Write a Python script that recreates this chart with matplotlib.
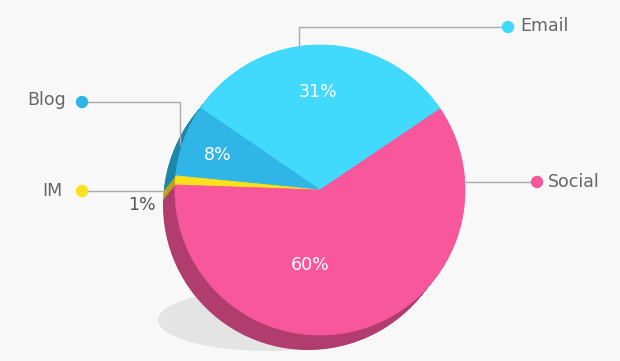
import matplotlib
matplotlib.use("Agg")
import matplotlib.pyplot as plt
from matplotlib.patches import Wedge, Ellipse, Circle

# data
labels = ["Email", "Blog", "IM", "Social"]
shares = [31, 8, 1, 60]
top_colors = ["#41d9fc", "#2fb6e6", "#fbe11c", "#f8589b"]
side_colors = ["#2aa6c8", "#1f86aa", "#b8a318", "#b03d6e"]
start_angle = 34.0  # degrees, counter-clockwise from 3 o'clock

W, H = 620, 361
fig = plt.figure(figsize=(W / 100, H / 100), dpi=100)
fig.patch.set_facecolor("#f8f8f8")
ax = fig.add_axes([0, 0, 1, 1])
ax.set_xlim(0, W)
ax.set_ylim(0, H)
ax.set_aspect("equal")
ax.axis("off")


def py(y):
    # pixel row (from top) -> data y
    return H - y


cx, cy, r = 320, py(190), 145
dx, dy = -12, -15  # depth of the pie side

# shadow under the pie
ax.add_patch(Ellipse((268, py(320)), 220, 62, color="#e4e4e4", lw=0, zorder=1))

# slice angles from the shares
total = sum(shares)
angles = []
a = start_angle
for s in shares:
    span = 360.0 * s / total
    angles.append((a, a + span))
    a += span

# extruded side
steps = 30
for k in range(steps, 0, -1):
    t = k / steps
    for (a0, a1), col in zip(angles, side_colors):
        ax.add_patch(Wedge((cx + dx * t, cy + dy * t), r, a0, a1,
                           color=col, lw=0, zorder=2))

# top face
for (a0, a1), col in zip(angles, top_colors):
    ax.add_patch(Wedge((cx, cy), r, a0, a1, color=col, lw=0.6, ec=col, zorder=3))

# percentage labels
pct_font = dict(family=["DejaVu Sans"], fontsize=12.5, zorder=5,
                ha="center", va="center")
ax.text(318, py(92), f"{shares[0]}%", color="white", **pct_font)
ax.text(218, py(155), f"{shares[1]}%", color="white", **pct_font)
ax.text(142, py(205), f"{shares[2]}%", color="#555555", **pct_font)
ax.text(310, py(265), f"{shares[3]}%", color="white", **pct_font)

# leader lines, dots and names
line_kw = dict(color="#aaaaaa", lw=1, zorder=4, solid_capstyle="butt")
name_font = dict(family=["DejaVu Sans"], fontsize=12.5,
                 color="#666666", va="center", zorder=5)

# Email
ax.plot([508, 299, 299], [py(27), py(27), py(47)], **line_kw)
ax.add_patch(Circle((508, py(27)), 5.5, color=top_colors[0], zorder=5))
ax.text(520, py(26), labels[0], ha="left", **name_font)

# Social
ax.plot([537, 463], [py(182), py(182)], **line_kw)
ax.add_patch(Circle((537, py(182)), 5.5, color=top_colors[3], zorder=5))
ax.text(548, py(182), labels[3], ha="left", **name_font)

# Blog
ax.plot([82, 180, 180], [py(102), py(102), py(145)], **line_kw)
ax.add_patch(Circle((82, py(102)), 5.5, color=top_colors[1], zorder=5))
ax.text(66, py(100), labels[1], ha="right", **name_font)

# IM
ax.plot([82, 166], [py(191), py(191)], **line_kw)
ax.add_patch(Circle((82, py(191)), 5.5, color=top_colors[2], zorder=5))
ax.text(63, py(191), labels[2], ha="right", **name_font)

fig.savefig("out.png", dpi=100, facecolor=fig.get_facecolor())
